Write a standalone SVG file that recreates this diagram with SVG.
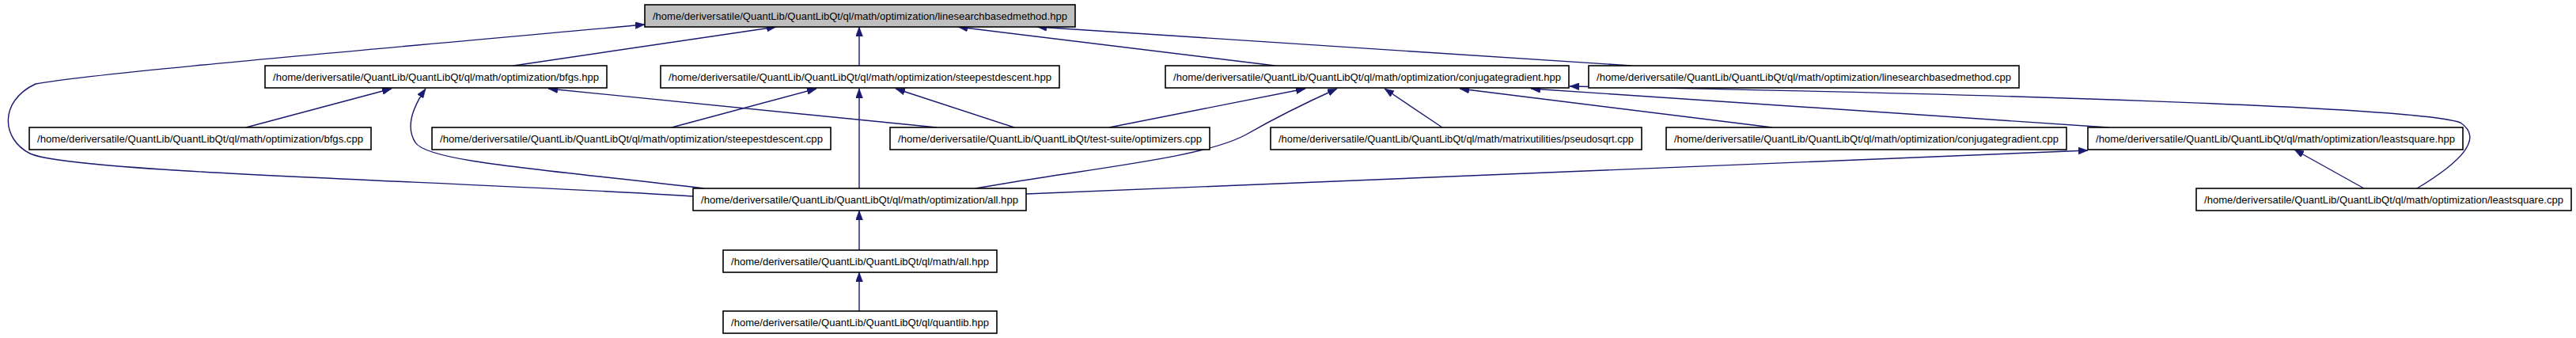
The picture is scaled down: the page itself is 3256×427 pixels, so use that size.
<svg xmlns="http://www.w3.org/2000/svg" width="3256" height="427" viewBox="0 0 3256 427">
<style>
.n rect{fill:#fff;stroke:#000;stroke-width:1.6}
.n.root rect{fill:#bfbfbf}
.n text{font-family:"Liberation Sans",Arial,sans-serif;font-size:13.5px;fill:#000;text-anchor:middle}
.e path{fill:none;stroke:#191970;stroke-width:1.4;marker-end:url(#ah)}
</style>
<defs>
<marker id="ah" viewBox="0 0 12 9" refX="12" refY="4.5" markerWidth="12" markerHeight="9" markerUnits="userSpaceOnUse" orient="auto">
<path d="M0,0 L12,4.5 L0,9 z" fill="#191970" stroke="#191970" stroke-width="0.5"/>
</marker>
</defs>
<rect width="3256" height="427" fill="#fff"/>
<g id="connectors" class="e">
<path d="M649,83 L981,34"/>
<path d="M1086,83 L1086,34"/>
<path d="M1612,83 L1211,34"/>
<path d="M2062,83 L1311,34"/>
<path d="M876,248 C560,228 90,218 38,194 C2,176 -2,128 45,106 C120,92 500,60 815,31"/>
<path d="M311,161 L495,112"/>
<path d="M890,238 C700,215 540,205 525,180 C512,160 522,135 538,112"/>
<path d="M1184,161 L693,112"/>
<path d="M849,161 L1032,112"/>
<path d="M1282,161 L1132,112"/>
<path d="M1086,238 L1086,112"/>
<path d="M1402,161 L1650,112"/>
<path d="M1233,238 C1380,212 1520,200 1575,170 C1610,150 1650,130 1690,112"/>
<path d="M1823,161 L1750,112"/>
<path d="M2240,161 L1845,112"/>
<path d="M2665,161 L1935,112"/>
<path d="M3055,238 C3110,205 3140,175 3110,155 C3060,135 2500,118 1984,109"/>
<path d="M1297,245 L2639,190"/>
<path d="M2988,238 L2900,189"/>
<path d="M1086,316 L1086,266"/>
<path d="M1086,393 L1086,344"/>
</g>
<g id="n_root" class="n root"><rect x="815" y="6" width="544" height="28"/><text x="1087" y="24.5" textLength="524" lengthAdjust="spacingAndGlyphs">/home/deriversatile/QuantLib/QuantLibQt/ql/math/optimization/linesearchbasedmethod.hpp</text></g>
<g id="n_bfgs_hpp" class="n"><rect x="335" y="83" width="432" height="28"/><text x="551" y="101.5" textLength="412" lengthAdjust="spacingAndGlyphs">/home/deriversatile/QuantLib/QuantLibQt/ql/math/optimization/bfgs.hpp</text></g>
<g id="n_sd_hpp" class="n"><rect x="835" y="83" width="504" height="28"/><text x="1087" y="101.5" textLength="484" lengthAdjust="spacingAndGlyphs">/home/deriversatile/QuantLib/QuantLibQt/ql/math/optimization/steepestdescent.hpp</text></g>
<g id="n_cg_hpp" class="n"><rect x="1473" y="83" width="510" height="28"/><text x="1728" y="101.5" textLength="490" lengthAdjust="spacingAndGlyphs">/home/deriversatile/QuantLib/QuantLibQt/ql/math/optimization/conjugategradient.hpp</text></g>
<g id="n_lsbm_cpp" class="n"><rect x="2008" y="83" width="544" height="28"/><text x="2280" y="101.5" textLength="524" lengthAdjust="spacingAndGlyphs">/home/deriversatile/QuantLib/QuantLibQt/ql/math/optimization/linesearchbasedmethod.cpp</text></g>
<g id="n_bfgs_cpp" class="n"><rect x="37" y="161" width="432" height="28"/><text x="253" y="179.5" textLength="412" lengthAdjust="spacingAndGlyphs">/home/deriversatile/QuantLib/QuantLibQt/ql/math/optimization/bfgs.cpp</text></g>
<g id="n_sd_cpp" class="n"><rect x="546" y="161" width="504" height="28"/><text x="798" y="179.5" textLength="484" lengthAdjust="spacingAndGlyphs">/home/deriversatile/QuantLib/QuantLibQt/ql/math/optimization/steepestdescent.cpp</text></g>
<g id="n_optimizers_cpp" class="n"><rect x="1125" y="161" width="404" height="28"/><text x="1327" y="179.5" textLength="384" lengthAdjust="spacingAndGlyphs">/home/deriversatile/QuantLib/QuantLibQt/test-suite/optimizers.cpp</text></g>
<g id="n_pseudosqrt_cpp" class="n"><rect x="1606" y="161" width="469" height="28"/><text x="1840.5" y="179.5" textLength="449" lengthAdjust="spacingAndGlyphs">/home/deriversatile/QuantLib/QuantLibQt/ql/math/matrixutilities/pseudosqrt.cpp</text></g>
<g id="n_cg_cpp" class="n"><rect x="2106" y="161" width="506" height="28"/><text x="2359" y="179.5" textLength="486" lengthAdjust="spacingAndGlyphs">/home/deriversatile/QuantLib/QuantLibQt/ql/math/optimization/conjugategradient.cpp</text></g>
<g id="n_lsq_hpp" class="n"><rect x="2639" y="161" width="474" height="28"/><text x="2876" y="179.5" textLength="454" lengthAdjust="spacingAndGlyphs">/home/deriversatile/QuantLib/QuantLibQt/ql/math/optimization/leastsquare.hpp</text></g>
<g id="n_opt_all_hpp" class="n"><rect x="876" y="238" width="421" height="28"/><text x="1086.5" y="256.5" textLength="401" lengthAdjust="spacingAndGlyphs">/home/deriversatile/QuantLib/QuantLibQt/ql/math/optimization/all.hpp</text></g>
<g id="n_lsq_cpp" class="n"><rect x="2776" y="238" width="474" height="28"/><text x="3013" y="256.5" textLength="454" lengthAdjust="spacingAndGlyphs">/home/deriversatile/QuantLib/QuantLibQt/ql/math/optimization/leastsquare.cpp</text></g>
<g id="n_math_all_hpp" class="n"><rect x="914" y="316" width="346" height="28"/><text x="1087" y="334.5" textLength="326" lengthAdjust="spacingAndGlyphs">/home/deriversatile/QuantLib/QuantLibQt/ql/math/all.hpp</text></g>
<g id="n_quantlib_hpp" class="n"><rect x="914" y="393" width="346" height="28"/><text x="1087" y="411.5" textLength="326" lengthAdjust="spacingAndGlyphs">/home/deriversatile/QuantLib/QuantLibQt/ql/quantlib.hpp</text></g>
</svg>
